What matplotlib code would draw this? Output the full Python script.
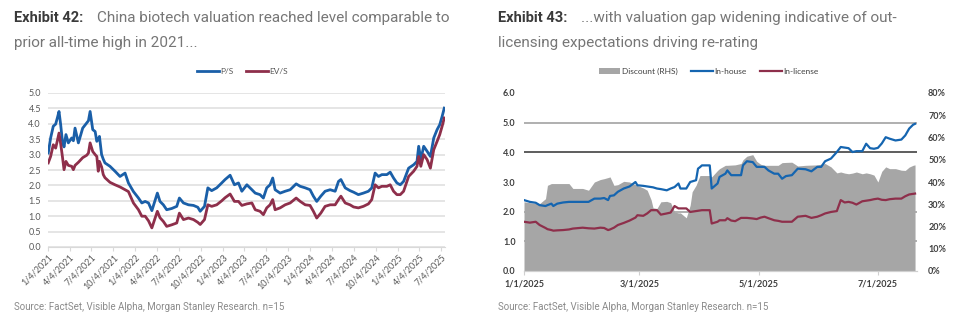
import matplotlib
matplotlib.use("Agg")
import matplotlib.pyplot as plt
import matplotlib.dates as mdates
import matplotlib.ticker as mticker
from matplotlib.patches import Patch
from matplotlib.lines import Line2D
import pandas as pd

# ---------------- Exhibit 42: P/S and EV/S ----------------
val_dates = [
    "2021-01-05", "2021-01-15", "2021-01-26", "2021-02-05", "2021-02-12", "2021-02-19",
    "2021-02-26", "2021-03-05", "2021-03-12", "2021-03-20", "2021-03-30", "2021-04-13",
    "2021-04-20", "2021-04-27", "2021-05-11", "2021-05-29", "2021-06-15", "2021-06-22",
    "2021-06-29", "2021-07-10", "2021-07-20", "2021-07-27", "2021-08-02", "2021-08-07",
    "2021-08-16", "2021-08-23", "2021-08-30", "2021-09-20", "2021-10-11", "2021-11-01",
    "2021-11-22", "2021-12-06", "2021-12-27", "2022-01-17", "2022-01-31",
    "2022-02-14", "2022-02-28", "2022-03-14", "2022-04-06", "2022-04-17", "2022-05-01",
    "2022-05-15", "2022-06-05", "2022-06-26", "2022-07-07", "2022-07-24", "2022-08-14",
    "2022-09-04", "2022-09-22", "2022-10-02", "2022-10-20", "2022-11-03", "2022-11-19",
    "2022-12-10", "2022-12-31", "2023-01-14", "2023-02-04", "2023-02-22", "2023-03-11",
    "2023-03-25", "2023-04-15", "2023-05-06",
    "2023-05-20", "2023-06-09", "2023-06-23", "2023-07-07", "2023-07-21", "2023-08-01",
    "2023-08-11", "2023-09-01", "2023-09-22", "2023-10-13", "2023-11-07", "2023-11-24",
    "2023-12-15", "2024-01-04", "2024-01-18", "2024-02-01", "2024-02-18", "2024-03-07",
    "2024-03-28", "2024-04-18", "2024-05-02", "2024-05-12", "2024-05-30", "2024-06-19",
    "2024-07-04", "2024-07-24", "2024-08-14", "2024-09-04", "2024-09-18", "2024-10-02",
    "2024-10-16", "2024-10-30", "2024-11-20", "2024-12-04", "2024-12-18", "2025-01-01",
    "2025-01-15", "2025-01-29", "2025-02-19", "2025-03-12", "2025-03-26", "2025-04-02",
    "2025-04-11", "2025-04-23", "2025-05-07", "2025-05-21", "2025-06-04", "2025-06-18",
    "2025-06-29", "2025-07-09", "2025-07-18",
]
ps_vals = [
    3.05, 3.54, 3.92, 3.99, 4.19, 4.40, 3.97, 3.45, 3.25, 3.65, 3.38, 3.54,
    3.45, 3.86, 3.38, 3.86, 4.03, 4.10, 4.40, 3.81, 3.75, 3.43, 3.50, 3.59,
    3.00, 2.85, 2.73, 2.62, 2.46, 2.29, 2.40, 2.08, 1.80, 1.59, 1.43,
    1.48, 1.43, 1.18, 1.75, 1.48, 1.37, 1.21, 1.25, 1.32, 1.59, 1.43, 1.37,
    1.35, 1.29, 1.16, 1.32, 1.92, 1.83, 1.92, 2.08, 2.19, 2.33, 2.02, 2.08,
    1.81, 2.02, 1.86,
    1.75, 1.70, 1.59, 1.92, 2.02, 2.24, 1.86, 1.75, 1.81, 1.86, 2.05, 1.97,
    1.92, 1.86, 1.65, 1.48, 1.65, 1.81, 1.86, 1.81, 2.13, 2.19, 1.92, 1.83,
    1.78, 1.70, 1.75, 1.81, 1.92, 2.40, 2.29, 2.35, 2.35, 2.43, 2.24, 2.08,
    2.02, 2.13, 2.56, 2.67, 2.78, 3.27, 2.84, 3.27, 3.11, 2.94, 3.54, 3.81,
    3.97, 4.24, 4.51,
]
evs_vals = [
    2.73, 2.94, 3.32, 3.21, 3.45, 3.70, 3.35, 2.95, 2.51, 2.78, 2.65, 2.62,
    2.51, 2.65, 2.75, 2.90, 2.98, 3.05, 3.38, 3.10, 3.00, 2.94, 2.46, 2.78,
    2.60, 2.35, 2.25, 2.10, 2.02, 1.95, 1.86, 1.80, 1.43, 1.21, 1.00,
    1.00, 0.85, 0.62, 1.16, 0.95, 0.83, 0.67, 0.72, 0.78, 1.10, 0.89, 0.94,
    0.89, 0.80, 0.73, 0.89, 1.37, 1.32, 1.37, 1.50, 1.60, 1.72, 1.48, 1.48,
    1.35, 1.40, 1.43,
    1.21, 1.16, 1.05, 1.27, 1.37, 1.54, 1.21, 1.27, 1.37, 1.43, 1.59, 1.48,
    1.37, 1.35, 1.16, 0.94, 1.10, 1.32, 1.37, 1.37, 1.54, 1.65, 1.43, 1.37,
    1.30, 1.27, 1.32, 1.40, 1.54, 2.02, 1.92, 1.97, 1.97, 2.02, 1.81, 1.70,
    1.70, 1.81, 2.29, 2.46, 2.62, 2.94, 2.62, 3.00, 2.84, 2.56, 3.16, 3.43,
    3.65, 3.92, 4.19,
]

# ---------------- Exhibit 43: in-house vs in-license ----------------
gap_dates = [
    "2025-01-01", "2025-01-04", "2025-01-07", "2025-01-09", "2025-01-12", "2025-01-13",
    "2025-01-15", "2025-01-16", "2025-01-18", "2025-01-21", "2025-01-24", "2025-01-26",
    "2025-01-31", "2025-02-03", "2025-02-06", "2025-02-09", "2025-02-11", "2025-02-13",
    "2025-02-14", "2025-02-16", "2025-02-18", "2025-02-21", "2025-02-24", "2025-02-27",
    "2025-02-28", "2025-03-03", "2025-03-05", "2025-03-07", "2025-03-08", "2025-03-10",
    "2025-03-12", "2025-03-15", "2025-03-17", "2025-03-19", "2025-03-21", "2025-03-22",
    "2025-03-25", "2025-03-27", "2025-03-28", "2025-03-30", "2025-03-31", "2025-04-01",
    "2025-04-02", "2025-04-06", "2025-04-07", "2025-04-10", "2025-04-11", "2025-04-14",
    "2025-04-15", "2025-04-17", "2025-04-19", "2025-04-22", "2025-04-23", "2025-04-25",
    "2025-04-28", "2025-04-30", "2025-05-02", "2025-05-04", "2025-05-06", "2025-05-09",
    "2025-05-11", "2025-05-13", "2025-05-15", "2025-05-18", "2025-05-21", "2025-05-25",
    "2025-05-28", "2025-05-31", "2025-06-02", "2025-06-04", "2025-06-07", "2025-06-10",
    "2025-06-12", "2025-06-14", "2025-06-16", "2025-06-18", "2025-06-20", "2025-06-23",
    "2025-06-25", "2025-06-27", "2025-06-29", "2025-07-01", "2025-07-03", "2025-07-05",
    "2025-07-07", "2025-07-10", "2025-07-13", "2025-07-15", "2025-07-17", "2025-07-19",
    "2025-07-20",
]
in_house = [
    2.39, 2.33, 2.30, 2.22, 2.19, 2.22, 2.27, 2.19, 2.27, 2.31, 2.33, 2.33,
    2.33, 2.33, 2.44, 2.44, 2.46, 2.39, 2.53, 2.55, 2.67, 2.78, 2.85, 3.00,
    2.89, 2.87, 2.85, 2.83, 2.82, 2.78, 2.76, 2.72, 2.78, 2.83, 2.95, 2.78,
    2.78, 3.00, 3.02, 3.06, 3.45, 3.50, 3.56, 3.56, 2.78, 2.95, 3.17, 3.28,
    3.39, 3.23, 3.23, 3.23, 3.56, 3.70, 3.67, 3.51, 3.51, 3.51, 3.39, 3.28,
    3.28, 3.11, 3.20, 3.23, 3.45, 3.43, 3.36, 3.51, 3.51, 3.70, 3.79, 4.01,
    4.18, 4.16, 4.14, 4.01, 4.04, 4.04, 4.29, 4.14, 4.12, 4.15, 4.30, 4.51,
    4.46, 4.40, 4.43, 4.57, 4.80, 4.93, 4.96,
]
in_license = [
    1.66, 1.63, 1.66, 1.55, 1.45, 1.41, 1.38, 1.36, 1.37, 1.38, 1.40, 1.43,
    1.46, 1.44, 1.43, 1.46, 1.45, 1.38, 1.40, 1.46, 1.55, 1.62, 1.70, 1.80,
    1.88, 1.86, 1.94, 2.05, 2.05, 2.05, 1.90, 1.94, 1.97, 2.19, 2.11, 2.11,
    2.11, 1.99, 2.00, 2.02, 2.03, 2.04, 2.05, 2.05, 1.60, 1.66, 1.71, 1.71,
    1.78, 1.70, 1.68, 1.79, 1.79, 1.79, 1.77, 1.75, 1.80, 1.83, 1.78, 1.71,
    1.69, 1.66, 1.66, 1.66, 1.83, 1.86, 1.79, 1.83, 1.88, 1.94, 1.99, 2.02,
    2.39, 2.31, 2.33, 2.30, 2.24, 2.35, 2.37, 2.39, 2.42, 2.44, 2.40, 2.39,
    2.42, 2.44, 2.44, 2.52, 2.58, 2.60, 2.61,
]
discount_pct = [
    31.1, 30.7, 30.4, 30.3, 32.5, 38.5, 39.3, 39.3, 39.3, 39.3, 39.3, 37.1,
    37.1, 36.3, 40.0, 41.1, 41.5, 42.0, 42.3, 38.5, 38.8, 40.3, 40.0, 38.8,
    38.4, 37.3, 36.3, 32.0, 28.4, 28.1, 31.1, 31.3, 30.7, 26.5, 26.1, 26.1,
    23.9, 29.6, 35.6, 38.5, 40.7, 42.9, 42.9, 42.9, 42.3, 45.2, 46.0, 47.5,
    47.5, 47.6, 47.7, 48.3, 50.0, 51.6, 52.3, 49.3, 48.0, 47.5, 47.5, 47.5,
    47.5, 48.7, 48.8, 48.9, 47.2, 47.5, 47.6, 47.7, 48.0, 48.3, 46.8, 44.1,
    44.5, 44.0, 43.7, 44.0, 44.5, 43.7, 44.1, 43.7, 43.1, 40.0, 44.8, 46.8,
    46.0, 46.0, 45.3, 45.2, 46.7, 47.5, 47.7,
]

left_ticks = pd.date_range("2021-01-01", "2025-07-01", freq="3MS") + pd.Timedelta(days=3)
right_ticks = ["2025-01-01", "2025-03-01", "2025-05-01", "2025-07-01"]

BLUE = "#1a5fa8"
RED = "#8e2f4b"
GREY_AREA = "#a6a6a6"
TXT = "#595959"
FONT = "Lato"

plt.rcParams["font.family"] = [FONT, "DejaVu Sans"]

fig = plt.figure(figsize=(9.6, 3.23), dpi=100)


def date_label(x, pos=None):
    d = mdates.num2date(x)
    return f"{d.month}/{d.day}/{d.year}"


# ===== titles and sources =====
for x0, num, line1, line2 in [
    (14, "Exhibit 42:", "China biotech valuation reached level comparable to", "prior all-time high in 2021..."),
    (498, "Exhibit 43:", "...with valuation gap widening indicative of out-", "licensing expectations driving re-rating"),
]:
    fig.text(x0 / 960, 1 - 18 / 323, num, fontsize=10.5, fontweight="bold",
             color="#3a3a3a", va="center", family="Roboto")
    fig.text((x0 + 83) / 960, 1 - 18 / 323, line1, fontsize=11, color="#767676",
             va="center", family="Roboto")
    fig.text(x0 / 960, 1 - 43 / 323, line2, fontsize=11, color="#767676",
             va="center", family="Roboto")
    fig.text(x0 / 960, 1 - 307 / 323, "Source: FactSet, Visible Alpha, Morgan Stanley Research. n=15",
             fontsize=7, color="#8a8a8a", va="center", family="Roboto")

# ===== left chart =====
ax = fig.add_axes([48 / 960, 1 - 247 / 323, 397 / 960, 154 / 323])
dts = pd.to_datetime(val_dates)
ax.plot(dts, ps_vals, color=BLUE, lw=2.0, label="P/S")
ax.plot(dts, evs_vals, color=RED, lw=2.0, label="EV/S")
ax.set_ylim(0, 5.0)
ax.set_yticks([i * 0.5 for i in range(11)])
ax.yaxis.set_major_formatter(mticker.FormatStrFormatter("%.1f"))
ax.set_xlim(pd.Timestamp("2021-01-04"), pd.Timestamp("2025-07-21"))
ax.set_xticks(left_ticks)
ax.xaxis.set_major_formatter(mticker.FuncFormatter(date_label))
ax.grid(axis="y", color="#e3e3e3", lw=1.3)
ax.set_axisbelow(True)
for s in ["top", "right", "left"]:
    ax.spines[s].set_visible(False)
ax.spines["bottom"].set_color("#d9d9d9")
ax.tick_params(axis="y", length=0, labelsize=6.5, labelcolor=TXT, pad=5)
ax.tick_params(axis="x", length=3, color="#d9d9d9", labelsize=6.5, labelcolor=TXT, pad=1)
for lab in ax.get_xticklabels():
    lab.set_rotation(45)
    lab.set_ha("right")
    lab.set_rotation_mode("anchor")
ax.legend(loc="center", bbox_to_anchor=(0.49, 1.14), ncol=2, frameon=False,
          fontsize=6, handlelength=2.6, columnspacing=1.5, handletextpad=0.2,
          labelcolor=TXT)

# ===== right chart =====
bx = fig.add_axes([524 / 960, 1 - 271 / 323, 393 / 960, 178 / 323])
bx2 = bx.twinx()
bx.set_zorder(bx2.get_zorder() + 1)
bx.patch.set_visible(False)

gd = pd.to_datetime(gap_dates)
bx2.fill_between(gd, 0, discount_pct, color=GREY_AREA, lw=0, zorder=2)
bx.plot(gd, in_house, color="#1565b0", lw=1.6)
bx.plot(gd, in_license, color=RED, lw=1.6)

bx.set_ylim(0, 6.0)
bx.set_yticks(range(7))
bx.yaxis.set_major_formatter(mticker.FormatStrFormatter("%.1f"))
bx2.set_ylim(0, 80)
bx2.set_yticks(range(0, 81, 10))
bx2.yaxis.set_major_formatter(mticker.FuncFormatter(lambda v, p: f"{v:.0f}%"))
# gridlines follow the left scale but sit under the shaded area
bx2.set_yticks([80 * i / 6 for i in range(1, 7)], minor=True)
bx2.yaxis.grid(True, which="minor", color="#a9a9a9", lw=1.3)
bx2.yaxis.grid(False, which="major")
bx2.set_axisbelow(True)
bx2.tick_params(axis="y", which="minor", length=0)

bx.set_xlim(pd.Timestamp("2025-01-01"), pd.Timestamp("2025-07-21"))
bx.set_xticks(pd.to_datetime(right_ticks))
bx.xaxis.set_major_formatter(mticker.FuncFormatter(date_label))

for a in (bx, bx2):
    for s in ["top", "right", "left"]:
        a.spines[s].set_visible(False)
    a.spines["bottom"].set_color("#d0d0d0")
bx.tick_params(axis="y", length=0, labelsize=6.5, labelcolor="#404040", pad=6)
bx2.tick_params(axis="y", which="major", length=0, labelsize=6.5, labelcolor="#404040", pad=8)
bx.tick_params(axis="x", length=3, color="#d0d0d0", labelsize=6.5, labelcolor="#404040", pad=3)
for lab in bx.get_yticklabels() + bx2.get_yticklabels() + bx.get_xticklabels():
    lab.set_fontweight("bold")

handles = [
    Patch(facecolor=GREY_AREA, edgecolor="none"),
    Line2D([], [], color="#1565b0", lw=1.6),
    Line2D([], [], color=RED, lw=1.6),
]
bx.legend(handles, ["Discount (RHS)", "In-house", "In-license"], loc="center",
          bbox_to_anchor=(0.47, 1.12), ncol=3, frameon=False, fontsize=6,
          handlelength=2.6, columnspacing=1.6, handletextpad=0.2, labelcolor="#404040")

# the 4.0 line is darker in the original
fig.canvas.draw()
for t in bx2.yaxis.get_minor_ticks():
    if abs(t.get_loc() - 80 * 4 / 6) < 0.01:
        t.gridline.set_color("#505050")

fig.savefig("out.png", dpi=100)
